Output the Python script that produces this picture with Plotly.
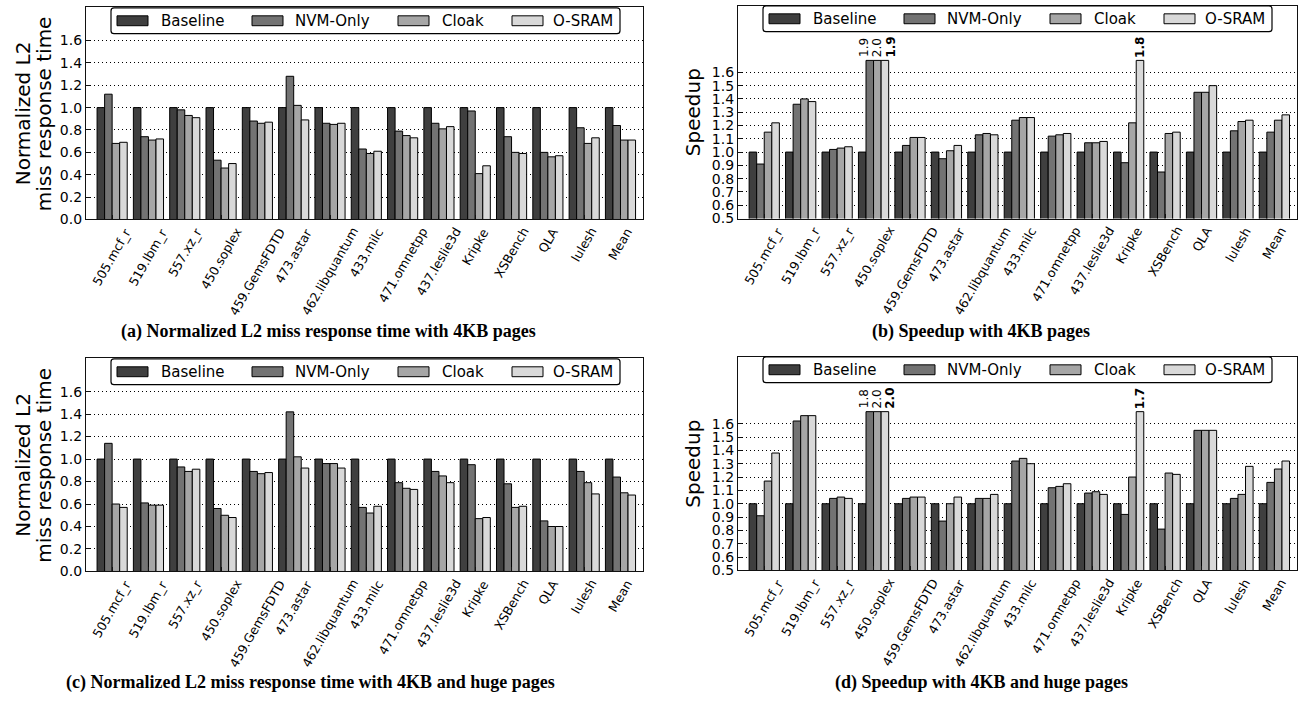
import plotly.graph_objects as go

# ---------------------------------------------------------------- data
benchmarks = ["505.mcf_r", "519.lbm_r", "557.xz_r", "450.soplex", "459.GemsFDTD",
              "473.astar", "462.libquantum", "433.milc", "471.omnetpp", "437.leslie3d",
              "Kripke", "XSBench", "QLA", "lulesh", "Mean"]
schemes = ["Baseline", "NVM-Only", "Cloak", "O-SRAM"]

baseline = [1.00, 1.00, 1.00, 1.00, 1.00, 1.00, 1.00, 1.00, 1.00, 1.00, 1.00, 1.00, 1.00, 1.00, 1.00]

# (a) normalized L2 miss response time, 4KB pages
lat4k_nvm = [1.12, 0.74, 0.98, 0.53, 0.88, 1.28, 0.86, 0.63, 0.79, 0.86, 0.97, 0.74, 0.60, 0.82, 0.84]
lat4k_cloak = [0.68, 0.71, 0.93, 0.46, 0.86, 1.02, 0.85, 0.59, 0.75, 0.81, 0.41, 0.60, 0.56, 0.68, 0.71]
lat4k_osram = [0.69, 0.72, 0.91, 0.50, 0.87, 0.89, 0.86, 0.61, 0.73, 0.83, 0.48, 0.59, 0.57, 0.73, 0.71]

# (b) speedup, 4KB pages
sp4k_nvm = [0.91, 1.36, 1.02, 1.9, 1.05, 0.95, 1.13, 1.24, 1.12, 1.07, 0.92, 0.85, 1.45, 1.16, 1.15]
sp4k_cloak = [1.15, 1.40, 1.03, 2.0, 1.11, 1.01, 1.14, 1.26, 1.13, 1.07, 1.22, 1.14, 1.45, 1.23, 1.24]
sp4k_osram = [1.22, 1.38, 1.04, 1.9, 1.11, 1.05, 1.13, 1.26, 1.14, 1.08, 1.8, 1.15, 1.50, 1.24, 1.28]

# (c) normalized L2 miss response time, 4KB + huge pages
latHuge_nvm = [1.14, 0.61, 0.93, 0.56, 0.89, 1.42, 0.96, 0.57, 0.79, 0.89, 0.95, 0.78, 0.45, 0.89, 0.84]
latHuge_cloak = [0.60, 0.59, 0.89, 0.50, 0.87, 1.02, 0.96, 0.52, 0.74, 0.85, 0.47, 0.57, 0.40, 0.79, 0.70]
latHuge_osram = [0.57, 0.59, 0.91, 0.48, 0.88, 0.92, 0.92, 0.58, 0.73, 0.79, 0.48, 0.58, 0.40, 0.69, 0.68]

# (d) speedup, 4KB + huge pages
spHuge_nvm = [0.91, 1.62, 1.04, 1.8, 1.04, 0.87, 1.04, 1.32, 1.12, 1.08, 0.92, 0.81, 1.55, 1.04, 1.16]
spHuge_cloak = [1.17, 1.66, 1.05, 2.0, 1.05, 1.00, 1.04, 1.34, 1.13, 1.09, 1.20, 1.23, 1.55, 1.07, 1.26]
spHuge_osram = [1.38, 1.66, 1.04, 2.0, 1.05, 1.05, 1.07, 1.30, 1.15, 1.07, 1.7, 1.22, 1.55, 1.28, 1.32]

latency_ticks = [0.0, 0.2, 0.4, 0.6, 0.8, 1.0, 1.2, 1.4, 1.6]
speedup_ticks = [0.5, 0.6, 0.7, 0.8, 0.9, 1.0, 1.1, 1.2, 1.3, 1.4, 1.5, 1.6]

captions = ["(a) Normalized L2 miss response time with 4KB pages",
            "(b) Speedup with 4KB pages",
            "(c) Normalized L2 miss response time with 4KB and huge pages",
            "(d) Speedup with 4KB and huge pages"]

# ---------------------------------------------------------------- styling
colors = ["#3f3f3f", "#737373", "#a6a6a6", "#d9d9d9"]
FONT = "DejaVu Sans"
W, H = 1299, 708
BARGAP = 0.17
SPEEDUP_CAP = 1.69          # bars taller than this are cut and labelled
LABEL_SPREAD = 13.3         # px between neighbouring cut-bar labels


def px(x):
    return x / W


def py(y):
    return 1 - y / H


panels = [
    dict(series=[baseline, lat4k_nvm, lat4k_cloak, lat4k_osram], kind="lat",
         box=(86, 7, 643, 222), legend=(111, 8), caption=(328, 335)),
    dict(series=[baseline, sp4k_nvm, sp4k_cloak, sp4k_osram], kind="sp",
         box=(738, 6, 1297, 221), legend=(763, 6), caption=(981, 335)),
    dict(series=[baseline, latHuge_nvm, latHuge_cloak, latHuge_osram], kind="lat",
         box=(86, 362, 643, 578), legend=(111, 363), caption=(310, 690)),
    dict(series=[baseline, spHuge_nvm, spHuge_cloak, spHuge_osram], kind="sp",
         box=(738, 361, 1297, 577), legend=(763, 361), caption=(981, 690)),
]

fig = go.Figure()
shapes = []
annotations = []


def rounded_rect(x0, y0, x1, y1, r=3):
    # pixel rectangle with rounded corners, expressed as a paper-space path
    p = [
        f"M{px(x0 + r)},{py(y0)}", f"L{px(x1 - r)},{py(y0)}",
        f"Q{px(x1)},{py(y0)} {px(x1)},{py(y0 + r)}", f"L{px(x1)},{py(y1 - r)}",
        f"Q{px(x1)},{py(y1)} {px(x1 - r)},{py(y1)}", f"L{px(x0 + r)},{py(y1)}",
        f"Q{px(x0)},{py(y1)} {px(x0)},{py(y1 - r)}", f"L{px(x0)},{py(y0 + r)}",
        f"Q{px(x0)},{py(y0)} {px(x0 + r)},{py(y0)}", "Z",
    ]
    return " ".join(p)


group_w = 1 - BARGAP
bar_w = group_w / len(schemes)


def bar_center(i, k):
    return i - group_w / 2 + (k + 0.5) * bar_w


for n, pnl in enumerate(panels):
    sfx = "" if n == 0 else str(n + 1)
    xa, ya = "x" + sfx, "y" + sfx
    x0, y0, x1, y1 = pnl["box"]
    is_sp = pnl["kind"] == "sp"

    for k, (name, vals) in enumerate(zip(schemes, pnl["series"])):
        shown = [min(v, SPEEDUP_CAP) for v in vals] if is_sp else vals
        fig.add_trace(go.Bar(
            x=benchmarks, y=shown, name=name, xaxis=xa, yaxis=ya,
            marker=dict(color=colors[k], line=dict(color="black", width=1)),
            showlegend=False, offsetgroup=str(k), hoverinfo="skip"))

    # value labels over the bars that are cut at the top of the scale
    if is_sp:
        for i in range(len(benchmarks)):
            cut = [(k, pnl["series"][k][i]) for k in range(len(schemes))
                   if pnl["series"][k][i] > SPEEDUP_CAP]
            if not cut:
                continue
            xm = sum(bar_center(i, k) for k, _ in cut) / len(cut)
            for j, (k, v) in enumerate(cut):
                txt = f"{v:.1f}"
                if k == 3:
                    txt = f"<b>{txt}</b>"
                annotations.append(dict(
                    x=xm, y=SPEEDUP_CAP, xref=xa, yref=ya, text=txt, showarrow=False,
                    textangle=-90, xanchor="center", yanchor="bottom", yshift=1,
                    xshift=(j - (len(cut) - 1) / 2) * LABEL_SPREAD,
                    font=dict(family=FONT, size=12, color="black")))

    ticks = speedup_ticks if is_sp else latency_ticks
    yrange = [0.5, 2.1] if is_sp else [0.0, 1.9]
    axis_line = dict(showline=True, linecolor="#111111", linewidth=1.2, mirror=True)
    fig.layout["xaxis" + sfx] = dict(
        domain=[px(x0), px(x1)], anchor=ya, type="category",
        range=[-0.72, 14.62], showticklabels=False, ticks="inside", ticklen=4,
        tickcolor="#111111", showgrid=False, zeroline=False, fixedrange=True, **axis_line)
    fig.layout["yaxis" + sfx] = dict(
        domain=[py(y1), py(y0)], anchor=xa, range=yrange,
        tickvals=ticks, tickformat=".1f", ticks="inside", ticklen=4,
        tickcolor="#111111", showgrid=True, gridcolor="black", gridwidth=1,
        griddash="1px,3px", zeroline=False, fixedrange=True,
        tickfont=dict(family=FONT, size=14, color="black"), **axis_line)

    # rotated category labels, centred under each group
    for i, b in enumerate(benchmarks):
        annotations.append(dict(
            x=i, y=0, xref=xa, yref=ya + " domain", text=b, showarrow=False,
            textangle=-60, xanchor="center", yanchor="top", yshift=-3,
            font=dict(family=FONT, size=12.5, color="black")))

    # y-axis titles
    ymid = (y0 + y1) / 2
    if is_sp:
        annotations.append(dict(
            x=px(x0 - 45), y=py(ymid), xref="paper", yref="paper", text="Speedup",
            showarrow=False, textangle=-90, xanchor="center", yanchor="middle",
            font=dict(family=FONT, size=20, color="black")))
    else:
        for line, xc in (("Normalized L2", 23), ("miss response time", 44)):
            annotations.append(dict(
                x=px(xc), y=py(ymid), xref="paper", yref="paper", text=line,
                showarrow=False, textangle=-90, xanchor="center", yanchor="middle",
                font=dict(family=FONT, size=20, color="black")))

    # legend box
    lx, ly = pnl["legend"]
    lh = 26
    shapes.append(dict(type="path", xref="paper", yref="paper",
                       path=rounded_rect(lx, ly, lx + 509, ly + lh),
                       line=dict(color="black", width=1.2), fillcolor="white",
                       layer="above"))
    for k, (sw, tx) in enumerate(zip([6, 141, 287, 401], [48, 182, 329, 440])):
        shapes.append(dict(type="rect", xref="paper", yref="paper",
                           x0=px(lx + sw), x1=px(lx + sw + 31),
                           y0=py(ly + lh / 2 + 5), y1=py(ly + lh / 2 - 5),
                           line=dict(color="black", width=1), fillcolor=colors[k],
                           layer="above"))
        annotations.append(dict(
            x=px(lx + tx), y=py(ly + lh / 2), xref="paper", yref="paper",
            text=schemes[k], showarrow=False, xanchor="left", yanchor="middle",
            font=dict(family=FONT, size=15, color="black")))

    # caption
    cx, cy = pnl["caption"]
    annotations.append(dict(
        x=px(cx), y=py(cy), xref="paper", yref="paper",
        text=f"<b>{captions[n]}</b>", showarrow=False, xanchor="center",
        yanchor="middle", font=dict(family="Liberation Serif", size=18, color="black")))

fig.update_layout(
    width=W, height=H, margin=dict(l=0, r=0, t=0, b=0),
    paper_bgcolor="white", plot_bgcolor="white",
    barmode="group", bargap=BARGAP, bargroupgap=0,
    font=dict(family=FONT, color="black"),
    shapes=shapes, annotations=annotations, showlegend=False)

fig.write_html("out.html")
